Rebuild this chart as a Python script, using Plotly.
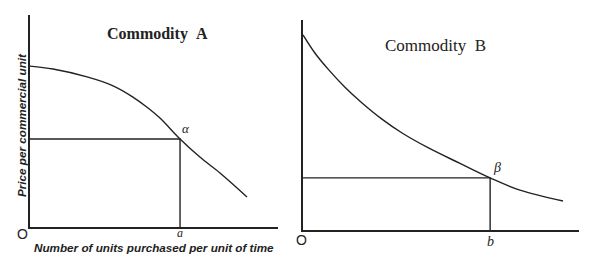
import plotly.graph_objects as go

# ---- data ----
qty_A = [0, 0.93, 2.30, 3.35, 4.15, 4.72, 5.24, 6.05, 6.85, 7.66, 8.75]
price_A = [7.59, 7.45, 7.08, 6.66, 6.13, 5.65, 5.14, 4.15, 3.30, 2.55, 1.42]
qty_B = [0, 0.43, 0.91, 1.52, 2.14, 2.86, 3.59, 4.53, 5.69, 6.78, 7.86, 9.42]
price_B = [9.29, 8.43, 7.66, 6.80, 6.05, 5.28, 4.62, 3.92, 3.17, 2.48, 1.90, 1.38]
point_A = (6.05, 4.15)
point_B = (6.78, 2.48)
titles = ["Commodity\u00a0\u00a0A", "Commodity\u00a0\u00a0B"]
x_title = "Number of units purchased per unit of time"
y_title = "Price per commercial unit"

INK = "#222222"
W, H = 600, 262

fig = go.Figure()

def add_panel(q, p, pt, xa, ya):
    fig.add_trace(go.Scatter(x=q, y=p, mode="lines", xaxis=xa, yaxis=ya,
                             line=dict(color=INK, width=1.4, shape="spline", smoothing=1.0),
                             hoverinfo="skip"))
    fig.add_trace(go.Scatter(x=[0, pt[0], pt[0]], y=[pt[1], pt[1], 0], mode="lines",
                             xaxis=xa, yaxis=ya, line=dict(color=INK, width=1.4),
                             hoverinfo="skip"))

add_panel(qty_A, price_A, point_A, "x", "y")
add_panel(qty_B, price_B, point_B, "x2", "y2")

def px_x(px):
    return px / W

def px_y(py):
    return 1 - py / H

axis_common = dict(showgrid=False, zeroline=False, showticklabels=False, ticks="",
                   showline=True, linecolor=INK, linewidth=1.5, range=[0, 10], fixedrange=True)

fig.update_layout(
    width=W, height=H, margin=dict(l=0, r=0, t=0, b=0),
    paper_bgcolor="white", plot_bgcolor="white", showlegend=False,
    xaxis=dict(domain=[px_x(30), px_x(278)], anchor="y", **axis_common),
    yaxis=dict(domain=[px_y(227), px_y(15)], anchor="x", **axis_common),
    xaxis2=dict(domain=[px_x(303), px_x(579)], anchor="y2", **axis_common),
    yaxis2=dict(domain=[px_y(230), px_y(20)], anchor="x2", **axis_common),
)

serif = "Liberation Serif"
sans = "Liberation Sans"

def pa(text, px, py, font, **kw):
    d = dict(text=text, x=px_x(px), y=px_y(py), xref="paper", yref="paper",
             xanchor="center", yanchor="middle", showarrow=False, font=font)
    d.update(kw)
    return d

ann = []
# panel titles
ann.append(pa("<b>" + titles[0] + "</b>", 157, 34, dict(family=serif, size=16, color=INK)))
ann.append(pa(titles[1], 435, 45, dict(family=serif, size=17, color=INK)))
# axis titles
ann.append(pa("<b><i>" + x_title + "</i></b>", 154, 247, dict(family=sans, size=11.7, color=INK)))
ann.append(pa("<b><i>" + y_title + "</i></b>", 21, 125, dict(family=sans, size=11.7, color=INK),
              textangle=-90))
# origin labels
ann.append(pa("O", 22, 234, dict(family=sans, size=14, color=INK)))
ann.append(pa("O", 301, 240, dict(family=sans, size=14, color=INK)))
# point labels
ann.append(dict(text="<i>a</i>", x=point_A[0], y=0, xref="x", yref="y",
                xanchor="center", yanchor="top", yshift=3,
                showarrow=False, font=dict(family=serif, size=12, color=INK)))
ann.append(dict(text="<i>α</i>", x=point_A[0], y=point_A[1], xref="x", yref="y",
                xanchor="left", yanchor="bottom", xshift=0, yshift=1,
                showarrow=False, font=dict(family=serif, size=13, color=INK)))
ann.append(dict(text="<i>b</i>", x=point_B[0], y=0, xref="x2", yref="y2",
                xanchor="center", yanchor="top", yshift=-2,
                showarrow=False, font=dict(family=serif, size=14, color=INK)))
ann.append(dict(text="<i>β</i>", x=point_B[0], y=point_B[1], xref="x2", yref="y2",
                xanchor="left", yanchor="bottom", xshift=1, yshift=1,
                showarrow=False, font=dict(family=serif, size=14, color=INK)))
fig.update_layout(annotations=ann)

fig.write_html("out.html")
